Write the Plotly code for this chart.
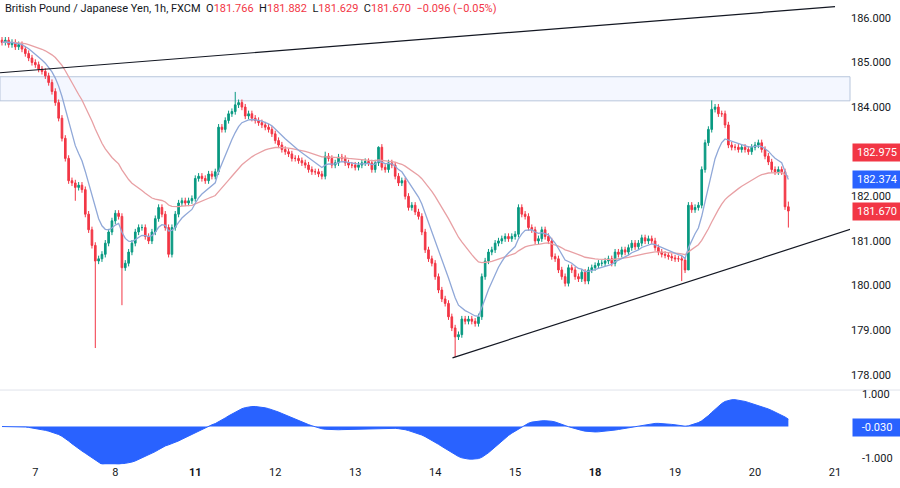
import plotly.graph_objects as go
import pandas as pd

closes = [185.45,185.5,185.4,185.45,185.35,185.4,185.3,185.2,185.1,185.0,
 184.95,184.85,184.8,184.7,184.55,184.35,184.1,183.75,183.3,182.85,
 182.35,182.3,182.2,182.25,182.15,181.6,181.25,180.9,180.55,180.6,
 180.7,180.95,181.2,181.45,181.62,181.55,180.4,180.5,180.75,180.95,
 181.2,181.3,181.3,181.1,181.0,181.2,181.5,181.75,181.6,181.3,
 180.7,181.3,181.6,181.85,181.9,181.85,181.9,181.95,182.4,182.45,
 182.4,182.35,182.5,182.45,182.55,183.55,183.5,183.7,183.85,183.9,
 184.05,184.1,184.0,183.8,183.85,183.75,183.7,183.65,183.6,183.55,
 183.5,183.4,183.25,183.15,183.05,183.0,182.95,182.85,182.85,182.8,
 182.75,182.7,182.6,182.55,182.55,182.5,182.45,182.9,182.85,182.7,
 182.75,182.88,182.85,182.75,182.7,182.7,182.65,182.7,182.75,182.78,
 182.75,182.6,182.75,183.1,182.65,182.6,182.75,182.7,182.45,182.3,
 182.35,182.0,181.75,181.8,181.65,181.55,181.2,180.8,180.6,180.5,
 180.2,179.9,179.7,179.6,179.3,179.05,178.85,178.9,179.25,179.2,
 179.25,179.2,179.15,179.3,180.2,180.55,180.75,180.8,180.95,181.0,
 181.05,181.1,181.05,181.1,181.15,181.75,181.6,181.55,181.3,181.25,
 181.0,181.05,181.25,181.1,181.0,180.65,180.6,180.35,180.2,180.05,
 180.4,180.35,180.2,180.15,180.3,180.1,180.35,180.4,180.45,180.5,
 180.5,180.55,180.6,180.5,180.75,180.7,180.8,180.75,180.85,180.95,
 180.87,180.95,181.07,181.0,181.05,181.0,180.85,180.75,180.7,180.68,
 180.65,180.62,180.6,180.6,180.57,180.35,181.8,181.7,181.75,181.8,
 182.6,183.2,183.5,183.95,184.0,183.85,183.85,183.6,183.15,183.1,
 183.1,183.05,183.1,183.05,183.0,183.1,183.15,183.2,183.05,182.9,
 182.77,182.6,182.55,182.6,182.55,181.766,181.67]
first_open = 185.5
wick = 0.07
special_lows = {28: 178.6, 36: 179.56, 136: 178.4, 204: 180.1, 206: 180.4, 236: 181.3, 22: 181.9}
special_highs = {70: 184.34, 213: 184.15, 236: 181.882, 97: 183.0, 113: 183.12}

day_ticks = [10, 34, 58, 82, 106, 130, 154, 178, 202, 226, 250]
day_labels = ["7", "8", "<b>11</b>", "12", "13", "14", "15", "<b>18</b>", "19", "20", "21"]
price_ticks = [178, 179, 180, 181, 182, 184, 185, 186]

band = [184.14, 184.68]
trend_top_x, trend_top_y = [-0.6, 250], [184.77, 186.25]
trend_bot_x, trend_bot_y = [135.2, 256.3], [178.38, 181.3]
label_vals = [(182.975, "182.975", "#f23645"), (182.374, "182.374", "#2962ff"), (181.670, "181.670", "#f23645")]
osc_label = (-0.030, "-0.030")

n = len(closes)
idx = list(range(n))
opens = [first_open] + closes[:-1]
opens[-1] = 181.766
highs = [special_highs.get(i, max(o, c) + wick) for i, (o, c) in enumerate(zip(opens, closes))]
lows = [special_lows.get(i, min(o, c) - wick) for i, (o, c) in enumerate(zip(opens, closes))]

s = pd.Series(closes)
ema_fast = s.ewm(span=9, adjust=False).mean()
ema_slow = s.ewm(span=34, adjust=False).mean()
osc = 1.05 * (s.ewm(span=12, adjust=False).mean() - s.ewm(span=30, adjust=False).mean()).ewm(span=8, adjust=False).mean()

fig = go.Figure()
fig.add_trace(go.Candlestick(x=idx, open=opens, high=highs, low=lows, close=closes,
    increasing=dict(line=dict(color="#089981", width=1), fillcolor="#089981"),
    decreasing=dict(line=dict(color="#f23645", width=1), fillcolor="#f23645"),
    whiskerwidth=0, showlegend=False))
fig.add_trace(go.Scatter(x=idx, y=ema_slow, mode="lines", line=dict(color="#e8a0a4", width=1.3), showlegend=False))
fig.add_trace(go.Scatter(x=idx, y=ema_fast, mode="lines", line=dict(color="#90a8d8", width=1.3), showlegend=False))
fig.add_trace(go.Scatter(x=trend_top_x, y=trend_top_y, mode="lines", line=dict(color="#131722", width=1.2), showlegend=False))
fig.add_trace(go.Scatter(x=trend_bot_x, y=trend_bot_y, mode="lines", line=dict(color="#131722", width=1.2), showlegend=False))
fig.add_trace(go.Scatter(x=idx, y=osc, mode="lines", fill="tozeroy", fillcolor="#2962ff",
    line=dict(color="#2962ff", width=1), showlegend=False, yaxis="y2"))

fig.add_shape(type="rect", xref="paper", yref="y", x0=0, x1=1, y0=band[0], y1=band[1],
    fillcolor="rgba(41,98,255,0.05)", line=dict(color="#b8c6dc", width=1), layer="below")
fig.add_shape(type="line", xref="paper", yref="paper", x0=0, x1=1.06, y0=0.163, y1=0.163,
    line=dict(color="#e0e3eb", width=1))

red = "#f23645"
anns = [dict(xref="paper", yref="paper", x=0.003, y=1.0, yanchor="top", xanchor="left", showarrow=False,
    text=f"British Pound / Japanese Yen, 1h, FXCM  O<span style='color:{red}'>181.766</span>  "
         f"H<span style='color:{red}'>181.882</span>  L<span style='color:{red}'>181.629</span>  "
         f"C<span style='color:{red}'>181.670</span>  <span style='color:{red}'>−0.096 (−0.05%)</span>",
    font=dict(size=11, color="#131722"))]
for v, t, c in label_vals:
    anns.append(dict(xref="paper", yref="y", x=1.002, y=v, xanchor="left", showarrow=False, text=t,
        bgcolor=c, font=dict(color="white", size=11), borderpad=2, width=44))
anns.append(dict(xref="paper", yref="y2", x=1.002, y=osc_label[0], xanchor="left", showarrow=False,
    text=osc_label[1], bgcolor="#2962ff", font=dict(color="white", size=11), borderpad=2, width=44))
for v, t in [(1, "1.000"), (-1, "-1.000")]:
    anns.append(dict(xref="paper", yref="y2", x=1.012, y=v, xanchor="left", showarrow=False, text=t,
        font=dict(color="#131722", size=11)))

fig.update_layout(
    width=900, height=488, margin=dict(l=0, r=50, t=0, b=22, autoexpand=False),
    paper_bgcolor="white", plot_bgcolor="white",
    font=dict(family="Roboto, Arial", color="#131722", size=11),
    xaxis=dict(range=[-0.6, 254.5], rangeslider=dict(visible=False), tickvals=day_ticks, ticktext=day_labels,
        showgrid=False, zeroline=False, showline=False, ticks="", tickfont=dict(size=11), anchor="y2"),
    yaxis=dict(domain=[0.167, 1], range=[177.70, 186.40], side="right", tickvals=price_ticks,
        ticktext=[f"{v:.3f}" for v in price_ticks], showgrid=False, zeroline=False, tickfont=dict(size=11),
        anchor="x"),
    yaxis2=dict(domain=[0.004, 0.159], range=[-1.19, 1.095], side="right", showgrid=False, zeroline=False,
        showticklabels=False, anchor="x"),
    annotations=anns,
)
fig.write_html("out.html", config={"displayModeBar": False},
               post_script="document.body.style.margin='0';document.body.style.overflow='hidden';")
